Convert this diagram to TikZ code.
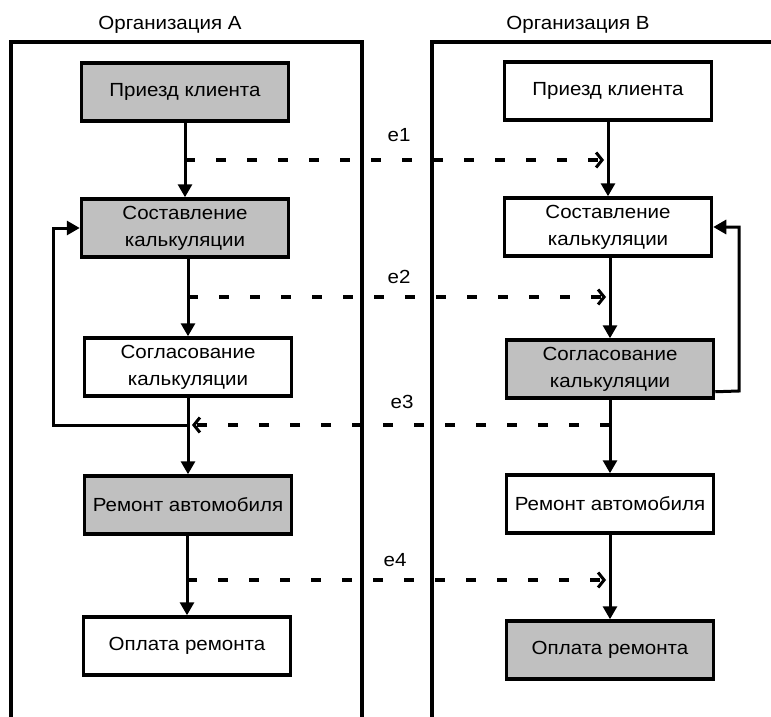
\documentclass[tikz,border=0pt]{standalone}
\usepackage{fontspec}
\setmainfont[FakeStretch=1.08]{Liberation Sans}
\usetikzlibrary{arrows.meta,calc}
\definecolor{boxgray}{RGB}{192,192,192}
\begin{document}
\begin{tikzpicture}[x=1pt,y=-1pt,
  every node/.style={font=\fontsize{19}{27}\selectfont, inner sep=0pt},
  proc/.style={draw, line width=3.5pt, minimum width=207pt, minimum height=58pt, align=center},
  procg/.style={proc, fill=boxgray},
  lane/.style={line width=3.4pt},
  flow/.style={line width=3pt, -{Triangle[width=14pt,length=13pt]}},
  msg/.style={line width=3.4pt, dash pattern=on 10pt off 21pt, -{Straight Barb[length=6pt,width=15pt,line width=3pt]}}
]
\useasboundingbox (0,0) rectangle (771,717);
% lanes
\draw[lane] (11,717) -- (11,42) -- (362,42) -- (362,717);
\draw[lane] (432,717) -- (432,42) -- (771,42);
\node (hA) at (170,25) {Организация A};
\node (hB) at (578,25) {Организация B};
% column A
\node[procg] (a1) at (185,92) {Приезд клиента};
\node[procg] (a2) at (185,228) {Составление\\калькуляции};
\node[proc]  (a3) at (188,367) {Согласование\\калькуляции};
\node[procg] (a4) at (188,505) {Ремонт автомобиля};
\node[proc]  (a5) at (187,646) {Оплата ремонта};
% column B
\node[proc]  (b1) at (608,91) {Приезд клиента};
\node[proc]  (b2) at (608,227) {Составление\\калькуляции};
\node[procg] (b3) at (610,369) {Согласование\\калькуляции};
\node[proc]  (b4) at (610,504) {Ремонт автомобиля};
\node[procg] (b5) at (610,650) {Оплата ремонта};
% vertical flows
\draw[flow] (a1.south) -- (a1.south |- a2.north);
\draw[flow] (a2.south -| a3.north) -- (a3.north);
\draw[flow] (a3.south) -- (a3.south |- a4.north);
\draw[flow] (a4.south -| a5.north) -- (a5.north);
\draw[flow] (b1.south) -- (b1.south |- b2.north);
\draw[flow] (b2.south -| b3.north) -- (b3.north);
\draw[flow] (b3.south) -- (b3.south |- b4.north);
\draw[flow] (b4.south -| b5.north) -- (b5.north);
% feedback loops
\coordinate (fa) at (188,425);
\draw[flow] (fa) -- (53,425) |- (a2.west);
\draw[flow] ($(b3.south east)+(0,-8)$) -- (739,391) |- (b2.east);
% messages
\coordinate (s1) at (185,160); \coordinate (t1) at (604,160);
\coordinate (s2) at (188,297); \coordinate (t2) at (606,297);
\coordinate (s3) at (610,425); \coordinate (t3) at (192,425);
\coordinate (s4) at (187,580); \coordinate (t4) at (606,580);
\draw[msg] (s1) -- (t1);
\draw[msg] (s2) -- (t2);
\draw[msg] (s3) -- (t3);
\draw[msg] (s4) -- (t4);
\node (l1) at (399,135) {e1};
\node (l2) at (399,277) {e2};
\node (l3) at (402,402) {e3};
\node (l4) at (395,560) {e4};
\end{tikzpicture}
\end{document}
